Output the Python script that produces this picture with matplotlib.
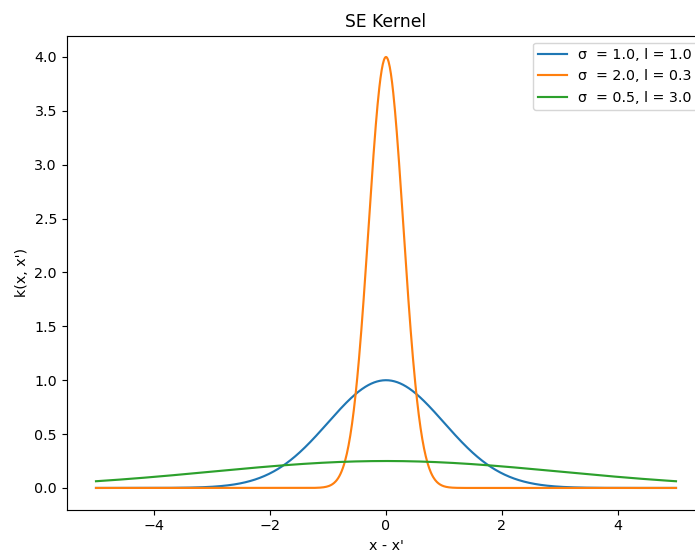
import numpy as np
import matplotlib
matplotlib.use("Agg")
import matplotlib.pyplot as plt

# Kernel parameters
sigmas = [1.0, 2.0, 0.5]
lengthscales = [1.0, 0.3, 3.0]
labels = ["σ  = 1.0, l = 1.0", "σ  = 2.0, l = 0.3", "σ  = 0.5, l = 3.0"]
x_range = (-5.0, 5.0)

title = "SE Kernel"
xlabel = "x - x'"
ylabel = "k(x, x')"

dpi = 102.8
W, H = 695, 556
fig = plt.figure(figsize=(W / dpi, H / dpi), dpi=dpi)

left, right = 67 / W, 705 / W
bottom, top = (H - 509.5) / H, (H - 35.5) / H
ax = fig.add_axes([left, bottom, right - left, top - bottom])

r = np.linspace(x_range[0], x_range[1], 1000)
for s, l, lab in zip(sigmas, lengthscales, labels):
    k = s ** 2 * np.exp(-r ** 2 / (2 * l ** 2))
    ax.plot(r, k, label=lab)

ax.set_title(title)
ax.set_xlabel(xlabel)
ax.set_ylabel(ylabel)
ax.legend(loc="upper right")

fig.savefig("out.png", dpi=dpi)
